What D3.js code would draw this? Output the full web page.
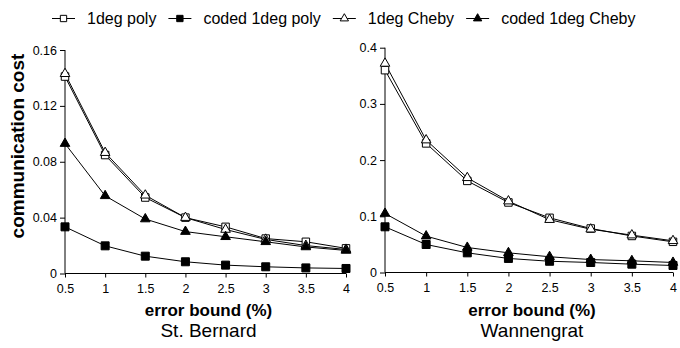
<!DOCTYPE html>
<html>
<head>
<meta charset="utf-8">
<script src="https://cdn.jsdelivr.net/npm/d3@7"></script>
<style>
  body { margin: 0; background: #fff; }
  svg { display: block; font-family: "Liberation Sans", Arial, Helvetica, sans-serif; }
</style>
</head>
<body>
<figure id="chart" style="margin:0"></figure>
<script>
// error bound (%) on the x axis
const errorBounds = [0.5, 1, 1.5, 2, 2.5, 3, 3.5, 4];
const xTickLabels = ['0.5', '1', '1.5', '2', '2.5', '3', '3.5', '4'];

const seriesNames = ['1deg poly', 'coded 1deg poly', '1deg Cheby', 'coded 1deg Cheby'];

// St. Bernard
const bernardPoly = [0.141, 0.0848, 0.0544, 0.040, 0.0334, 0.025, 0.0227, 0.018];
const bernardCodedPoly = [0.0334, 0.0198, 0.0124, 0.0084, 0.006, 0.0048, 0.004, 0.0036];
const bernardCheby = [0.143, 0.0865, 0.056, 0.040, 0.0315, 0.0244, 0.020, 0.0172];
const bernardCodedCheby = [0.093, 0.0556, 0.039, 0.030, 0.0263, 0.0227, 0.019, 0.0165];
const bernardYTicks = [0, 0.04, 0.08, 0.12, 0.16];

// Wannengrat
const wannPoly = [0.360, 0.2297, 0.163, 0.1246, 0.0973, 0.0783, 0.065, 0.0546];
const wannCodedPoly = [0.0813, 0.0498, 0.035, 0.025, 0.020, 0.0178, 0.0148, 0.0125];
const wannCheby = [0.372, 0.2356, 0.1685, 0.127, 0.094, 0.077, 0.0665, 0.0564];
const wannCodedCheby = [0.105, 0.0647, 0.0445, 0.035, 0.028, 0.023, 0.0208, 0.0178];
const wannYTicks = [0, 0.1, 0.2, 0.3, 0.4];

const width = 680;
const height = 348;

const markers = [
  { shape: d3.symbolSquare, fill: '#fff', size: 56 },
  { shape: d3.symbolSquare, fill: '#000', size: 64 },
  { shape: d3.symbolTriangle, fill: '#fff', size: 40 },
  { shape: d3.symbolTriangle, fill: '#000', size: 40 }
];

const svg = d3.select('figure#chart')
  .append('svg')
  .attr('width', width)
  .attr('height', height);

svg.append('rect').attr('width', width).attr('height', height).attr('fill', '#fff');

function drawPanel(opts) {
  const x = d3.scaleLinear().domain([0.5, 4]).range([opts.left, opts.right]);
  const y = d3.scaleLinear().domain([0, opts.yMax]).range([opts.bottom, opts.top]);
  const g = svg.append('g');

  // axes
  const xAxis = d3.axisBottom(x)
    .tickValues(errorBounds)
    .tickFormat((d, i) => xTickLabels[i])
    .tickSize(4)
    .tickPadding(7);
  g.append('g')
    .attr('transform', 'translate(0,' + opts.bottom + ')')
    .call(xAxis)
    .call(a => a.select('.domain').attr('d', 'M' + opts.left + ',0H' + opts.right))
    .call(a => a.selectAll('text').attr('font-size', 12.5).attr('font-family', null).attr('fill', '#000'));

  const yAxis = d3.axisLeft(y)
    .tickValues(opts.yTicks)
    .tickFormat(d => d === 0 ? '0' : String(d))
    .tickSize(5)
    .tickPadding(3);
  g.append('g')
    .attr('transform', 'translate(' + opts.left + ',0)')
    .call(yAxis)
    .call(a => a.select('.domain').attr('d', 'M0,' + opts.bottom + 'V' + opts.top))
    .call(a => a.selectAll('text').attr('font-size', 12.5).attr('font-family', null).attr('fill', '#000'));

  g.selectAll('.domain, .tick line').attr('stroke', '#000').attr('stroke-width', 1);

  // series
  const line = d3.line()
    .x((d, i) => x(errorBounds[i]))
    .y(d => y(d));

  opts.series.forEach((values, s) => {
    g.append('path')
      .attr('d', line(values))
      .attr('fill', 'none')
      .attr('stroke', '#000')
      .attr('stroke-width', 1);
  });
  opts.series.forEach((values, s) => {
    const m = markers[s];
    g.selectAll('.m' + s)
      .data(values)
      .enter()
      .append('path')
      .attr('d', d3.symbol().type(m.shape).size(m.size))
      .attr('transform', (d, i) => 'translate(' + x(errorBounds[i]) + ',' + y(d) + ')')
      .attr('fill', m.fill)
      .attr('stroke', '#000')
      .attr('stroke-width', 1);
  });

  const cx = (opts.left + opts.right) / 2 + 3;
  g.append('text')
    .attr('x', cx)
    .attr('y', 316)
    .attr('text-anchor', 'middle')
    .attr('font-size', 17)
    .attr('font-weight', 'bold')
    .text('error bound (%)');
  g.append('text')
    .attr('x', cx)
    .attr('y', 337)
    .attr('text-anchor', 'middle')
    .attr('font-size', 19)
    .text(opts.title);
}

drawPanel({
  left: 65, right: 346, top: 50, bottom: 273.5, yMax: 0.16,
  yTicks: bernardYTicks,
  series: [bernardPoly, bernardCodedPoly, bernardCheby, bernardCodedCheby],
  title: 'St. Bernard'
});

drawPanel({
  left: 385, right: 673, top: 47.7, bottom: 272.5, yMax: 0.4,
  yTicks: wannYTicks,
  series: [wannPoly, wannCodedPoly, wannCheby, wannCodedCheby],
  title: 'Wannengrat'
});

// y axis title
svg.append('text')
  .attr('transform', 'translate(24,146) rotate(-90)')
  .attr('text-anchor', 'middle')
  .attr('font-size', 19)
  .attr('font-weight', 'bold')
  .text('communication cost');

// legend
const legend = svg.append('g');
let lx = 52;
seriesNames.forEach((name, s) => {
  const m = markers[s];
  const item = legend.append('g').attr('transform', 'translate(' + lx + ',0)');
  item.append('line')
    .attr('x1', 0).attr('x2', 23).attr('y1', 18.5).attr('y2', 18.5)
    .attr('stroke', '#000');
  item.append('path')
    .attr('d', d3.symbol().type(m.shape).size(s < 2 ? 40 : 30))
    .attr('transform', 'translate(11.5,18.5)')
    .attr('fill', m.fill)
    .attr('stroke', '#000');
  const t = item.append('text')
    .attr('x', 35)
    .attr('y', 24)
    .attr('font-size', 16)
    .text(name);
  lx += 35 + t.node().getComputedTextLength() + 12;
});
</script>
</body>
</html>
